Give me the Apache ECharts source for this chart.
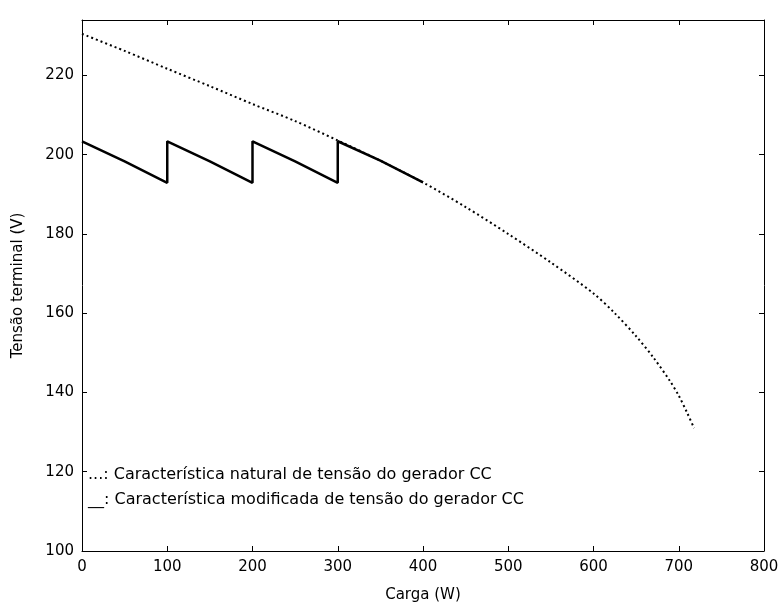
<!DOCTYPE html>
<html>
<head>
<meta charset="utf-8">
<script src="https://cdn.jsdelivr.net/npm/echarts@6/dist/echarts.min.js"></script>
<style>
  html, body { margin: 0; padding: 0; background: #fff; }
  #main { width: 782px; height: 608px; }
</style>
</head>
<body>
<div id="main"></div>
<script>
// natural characteristic (dotted)
const natX = [0, 50, 100, 150, 200, 250, 300, 350, 400, 450, 500, 550, 600, 625, 650, 670, 690, 700, 710, 718];
const natY = [230.5, 226.2, 221.7, 217.3, 212.8, 208.5, 203.6, 198.5, 193.0, 186.8, 180.0, 172.8, 165.0, 160.0, 154.2, 148.9, 142.8, 139.2, 134.8, 131.0];

// modified characteristic (solid sawtooth)
const modX = [0, 50, 100, 100, 150, 200, 200, 250, 300, 300, 350, 400];
const modY = [203.4, 198.3, 192.9, 203.4, 198.3, 192.9, 203.4, 198.3, 192.9, 203.4, 198.5, 193.0];

const xTicks = [0, 100, 200, 300, 400, 500, 600, 700, 800];
const yTicks = [100, 120, 140, 160, 180, 200, 220];

const legendTexts = [
  '...: Característica natural de tensão do gerador CC',
  '__: Característica modificada de tensão do gerador CC'
];

const font = '"DejaVu Sans", Verdana, sans-serif';

const chart = echarts.init(document.getElementById('main'));

const axisCommon = {
  axisLine: { show: true, onZero: false, lineStyle: { color: '#000', width: 1 } },
  axisTick: { show: true, inside: true, length: 5, lineStyle: { color: '#000' } },
  splitLine: { show: false }
};

const option = {
  animation: false,
  backgroundColor: '#fff',
  grid: { left: 82, right: 18, top: 20, bottom: 56, containLabel: false },
  xAxis: [
    Object.assign({
      type: 'value', min: 0, max: 800, interval: 100,
      name: 'Carga (W)', nameLocation: 'middle', nameGap: 37,
      nameTextStyle: { color: '#000', fontSize: 15, fontFamily: font },
      axisLabel: { color: '#000', fontSize: 15, fontFamily: font, margin: 9,
        formatter: v => xTicks.includes(v) ? String(v) : '' }
    }, axisCommon),
    Object.assign({
      type: 'value', min: 0, max: 800, interval: 100, position: 'top',
      axisLabel: { show: false }
    }, axisCommon)
  ],
  yAxis: [
    Object.assign({
      type: 'value', min: 100, max: 234, interval: 20,
      name: 'Tensão terminal (V)', nameLocation: 'middle', nameGap: 56,
      nameTextStyle: { color: '#000', fontSize: 15, fontFamily: font },
      axisLabel: { color: '#000', fontSize: 15, fontFamily: font, margin: 8,
        formatter: v => yTicks.includes(v) ? String(v) : '' }
    }, axisCommon),
    Object.assign({
      type: 'value', min: 100, max: 234, interval: 20, position: 'right',
      axisLabel: { show: false }
    }, axisCommon)
  ],
  series: [
    {
      name: 'natural', type: 'line', symbol: 'none', smooth: 0.3,
      data: natX.map((x, i) => [x, natY[i]]),
      lineStyle: { color: '#000', width: 2, type: [2, 3] }
    },
    {
      name: 'modificada', type: 'line', symbol: 'none',
      data: modX.map((x, i) => [x, modY[i]]),
      lineStyle: { color: '#000', width: 2.5 }
    }
  ],
  graphic: legendTexts.map((t, i) => ({
    type: 'text', left: 88, top: 467 + i * 25,
    style: { text: t, fill: '#000', font: '16px ' + font }
  }))
};

chart.setOption(option);
</script>
</body>
</html>
